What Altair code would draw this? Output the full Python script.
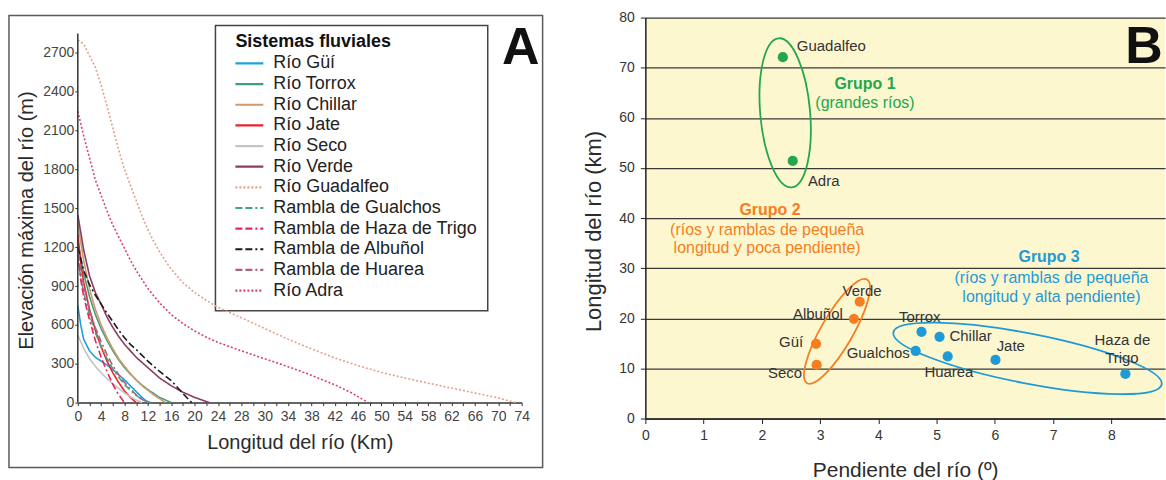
import altair as alt
import pandas as pd

FONT = "Liberation Sans"
TXT = "#2b2b2b"

# ---------------- Panel A data ----------------
series_names = ["Río Güí", "Río Torrox", "Río Chillar", "Río Jate", "Río Seco", "Río Verde",
                "Río Guadalfeo", "Rambla de Gualchos", "Rambla de Haza de Trigo",
                "Rambla de Albuñol", "Rambla de Huarea", "Río Adra"]
series_colors = ["#1BA3DC", "#3E9F7E", "#D29A6C", "#EE2026", "#C4C4C4", "#8C3B63",
                 "#E3A08C", "#3EA48A", "#E8245A", "#1A1A1A", "#B0607E", "#D9407A"]
SOLID = [1, 0]
DOT = [2, 2]
DASHDOT = [7, 3, 7, 3, 2, 3]
series_dashes = [SOLID, SOLID, SOLID, SOLID, SOLID, SOLID, DOT,
                 DASHDOT, DASHDOT, DASHDOT, DASHDOT, DOT]

gui_km = [0, 0.5, 1, 2, 3, 4, 5, 6, 7, 8, 9, 10, 11, 12]
gui_el = [750, 600, 490, 400, 350, 320, 290, 255, 215, 175, 130, 85, 40, 0]
torrox_km = [0, 1, 2, 3, 4, 5, 6, 7, 8, 9, 10, 11, 12, 13, 14, 15, 16]
torrox_el = [1250, 1000, 820, 680, 570, 480, 400, 330, 270, 220, 175, 135, 100, 70, 40, 20, 0]
chillar_km = [0, 1, 2, 3, 4, 5, 6, 7, 8, 9, 10, 11, 12, 13, 14, 15]
chillar_el = [1380, 1100, 880, 720, 600, 500, 415, 340, 280, 225, 175, 130, 95, 60, 30, 0]
jate_km = [0, 0.5, 1, 2, 3, 4, 5, 6, 7, 8, 9, 10]
jate_el = [1300, 1080, 930, 720, 560, 430, 320, 230, 155, 90, 40, 0]
seco_km = [0, 1, 2, 3, 4, 5, 6, 7, 8, 9, 10, 11]
seco_el = [520, 420, 340, 280, 230, 185, 145, 110, 75, 45, 20, 0]
verde_km = [0, 1, 2, 3, 4, 5, 6, 7, 8, 10, 12, 14, 16, 18, 20, 22.5]
verde_el = [1450, 1180, 980, 850, 760, 660, 580, 510, 450, 350, 270, 190, 130, 80, 40, 0]
guadalfeo_km = [0, 1, 2, 3, 4, 5, 6, 7, 8, 9, 10, 11, 12, 13, 14, 15, 16, 18, 20, 22, 24, 26,
                28, 30, 32, 34, 38, 42, 46, 50, 54, 58, 62, 66, 70, 73]
guadalfeo_el = [2800, 2770, 2680, 2590, 2450, 2290, 2120, 1950, 1800, 1680, 1560, 1440, 1335,
                1245, 1165, 1095, 1030, 925, 850, 790, 735, 695, 655, 572, 530, 490, 415, 345,
                285, 233, 190, 150, 112, 74, 36, 0]
gualchos_km = [0, 1, 2, 3, 4, 5, 6, 7, 8, 9, 10, 11, 12.5]
gualchos_el = [1100, 850, 680, 540, 430, 340, 260, 195, 140, 95, 55, 25, 0]
haza_km = [0, 0.5, 1, 2, 3, 4, 5, 6, 7, 8]
haza_el = [1150, 950, 820, 640, 480, 350, 240, 140, 60, 0]
albunol_km = [0, 1, 2, 3, 4, 5, 6, 7, 8, 9, 10, 12, 14, 16, 18, 19.5]
albunol_el = [1200, 1020, 910, 830, 760, 690, 625, 560, 500, 450, 410, 320, 240, 170, 70, 0]
huarea_km = [0, 1, 2, 3, 4, 5, 6, 7, 8, 9, 10, 11, 12]
huarea_el = [1150, 900, 720, 580, 470, 370, 285, 215, 155, 105, 60, 25, 0]
adra_km = [0, 1, 2, 3, 4, 5, 6, 7, 8, 9, 10, 11, 12, 14, 16, 18, 20, 22, 24, 26, 28, 30, 33,
           36, 39, 42, 45, 47.7]
adra_el = [2250, 2060, 1890, 1720, 1600, 1480, 1370, 1280, 1190, 1100, 1020, 950, 880, 770,
           680, 610, 553, 505, 465, 432, 400, 338, 293, 245, 193, 138, 72, 0]

profiles = [
    (gui_km, gui_el), (torrox_km, torrox_el), (chillar_km, chillar_el), (jate_km, jate_el),
    (seco_km, seco_el), (verde_km, verde_el), (guadalfeo_km, guadalfeo_el),
    (gualchos_km, gualchos_el), (haza_km, haza_el), (albunol_km, albunol_el),
    (huarea_km, huarea_el), (adra_km, adra_el),
]

x_labels_A = [0, 4, 8, 12, 16, 20, 24, 28, 30, 34, 38, 42, 46, 50, 54, 58, 62, 66, 70, 74]
x_ticks_A = list(range(0, 29, 2)) + [29] + list(range(30, 75, 2))
y_ticks_A = list(range(0, 2851, 150))
y_axis_top_A = 2850

# ---------------- Panel B data ----------------
names_B = ["Guadalfeo", "Adra", "Verde", "Albuñol", "Güí", "Seco",
           "Torrox", "Chillar", "Gualchos", "Huarea", "Jate", "Haza de Trigo"]
slope_B = [2.36, 2.53, 3.68, 3.58, 2.93, 2.94, 4.74, 5.05, 4.64, 5.19, 6.01, 8.24]
length_B = [72.1, 51.4, 23.3, 19.9, 14.9, 10.7, 17.3, 16.3, 13.5, 12.4, 11.7, 8.9]
group_B = ["Grupo 1", "Grupo 1", "Grupo 2", "Grupo 2", "Grupo 2", "Grupo 2",
           "Grupo 3", "Grupo 3", "Grupo 3", "Grupo 3", "Grupo 3", "Grupo 3"]
groups = ["Grupo 1", "Grupo 2", "Grupo 3"]
group_colors = ["#22A84A", "#F47E20", "#1E9AD6"]
group_text_colors = ["#2AA952", "#F2873A", "#2EA8DF"]

# ellipse centres (slope, length)
ell_x = [2.40, 3.29, 6.56]
ell_y = [61.0, 17.4, 12.0]

# point-label annotations
lab_text = ["Guadalfeo", "Adra", "Verde", "Albuñol", "Güí", "Seco", "Gualchos",
            "Torrox", "Chillar", "Jate", "Huarea", "Haza de", "Trigo"]
lab_x = [2.60, 2.79, 3.72, 3.39, 2.71, 2.69, 4.54, 4.71, 5.22, 6.03, 4.79, 7.71, 8.18]
lab_y = [74.4, 47.4, 25.5, 20.9, 15.3, 9.0, 13.1, 20.3, 16.5, 14.5, 9.2, 15.7, 12.1]
lab_align = ["left", "left", "center", "right", "right", "right", "right",
             "center", "left", "left", "left", "left", "center"]

grp_title = ["Grupo 1", "Grupo 2", "Grupo 3"]
grp_title_x = [3.77, 2.14, 6.93]
grp_title_y = [66.7, 41.6, 32.2]
grp_desc = ["(grandes ríos)", "(ríos y ramblas de pequeña", "longitud y poca pendiente)",
            "(ríos y ramblas de pequeña", "longitud y alta pendiente)"]
grp_desc_group = ["Grupo 1", "Grupo 2", "Grupo 2", "Grupo 3", "Grupo 3"]
grp_desc_x = [3.77, 2.09, 2.09, 6.97, 6.97]
grp_desc_y = [62.9, 37.6, 34.0, 28.1, 24.3]

# ================= Panel A =================
rows = []
for name, (ks, es) in zip(series_names, profiles):
    for k, e in zip(ks, es):
        rows.append({"serie": name, "km": k, "elev": e})
dfA = pd.DataFrame(rows)

WA = 445
HA = 386
PX_PER_M = 370 / 2850.0
y_top_dom = 2850 + 16 / PX_PER_M
step = WA / 19.0
lab_list = ",".join(str(v) for v in x_labels_A)

xA = alt.X("km:Q",
           scale=alt.Scale(domain=[0, 28, 30, 74], range=[0, 7 * step, 8 * step, 19 * step],
                           nice=False, zero=False),
           axis=alt.Axis(values=x_ticks_A,
                         labelExpr=f"indexof([{lab_list}], datum.value) >= 0 ? datum.label : ''",
                         title="Longitud del río (Km)", titleFontSize=20, titleFontWeight="normal",
                         titleColor=TXT, titlePadding=9, labelFontSize=14, labelColor="#444",
                         labelPadding=4, tickSize=3, tickColor="#333", domainColor="#333",
                         domainWidth=1.5, grid=False, labelFlush=False, labelOverlap=False))
yA = alt.Y("elev:Q",
           scale=alt.Scale(domain=[0, y_top_dom], nice=False),
           axis=alt.Axis(values=y_ticks_A,
                         labelExpr="(datum.value % 300 == 0 && datum.value <= 2700) ? datum.label : ''",
                         format="d", domain=False,
                         title="Elevación máxima del río (m)", titleFontSize=20,
                         titleFontWeight="normal", titleColor=TXT, titlePadding=6, titleY=203,
                         labelFontSize=14, labelColor="#444", labelPadding=1, tickSize=3,
                         tickColor="#333", grid=False,
                         labelOverlap=False, labelFlush=False))

cscale = alt.Scale(domain=series_names, range=series_colors)
dscale = alt.Scale(domain=series_names, range=series_dashes)

lines = alt.Chart(dfA).mark_line(strokeWidth=1.6).encode(
    x=xA, y=yA,
    color=alt.Color("serie:N", scale=cscale, legend=None),
    strokeDash=alt.StrokeDash("serie:N", scale=dscale, legend=None),
)

one = pd.DataFrame({"k": [0]})
yaxis_line = alt.Chart(one).mark_rule(color="#333", strokeWidth=1.5).encode(
    x=alt.value(0), y=alt.datum(0), y2=alt.datum(y_axis_top_A))
frameA = alt.Chart(one).mark_rect(fillOpacity=0, stroke="#5a5a5a", strokeWidth=1.5).encode(
    x=alt.value(-69), x2=alt.value(466), y=alt.value(-2), y2=alt.value(451))
legend_box = alt.Chart(one).mark_rect(fill="white", stroke="#444", strokeWidth=1.5).encode(
    x=alt.value(138), x2=alt.value(411), y=alt.value(8), y2=alt.value(294))

# hand-built legend (title, coloured/dashed keys and labels)
dfLeg = pd.DataFrame({"serie": series_names, "i": list(range(len(series_names)))})
leg_base = alt.Chart(dfLeg).transform_calculate(ly="46 + datum.i * 20.7")
leg_keys = leg_base.mark_rule(strokeWidth=2.2).encode(
    x=alt.value(158), x2=alt.value(186), y=alt.Y("ly:Q", scale=None, axis=None),
    color=alt.Color("serie:N", scale=cscale, legend=None),
    strokeDash=alt.StrokeDash("serie:N", scale=dscale, legend=None))
leg_labels = leg_base.mark_text(align="left", baseline="middle", fontSize=18, color="#222",
                                font=FONT).encode(
    x=alt.value(196), y=alt.Y("ly:Q", scale=None, axis=None), text="serie:N")
leg_title = alt.Chart(one).mark_text(text="Sistemas fluviales", align="left", baseline="middle",
                                     fontSize=18, fontWeight="bold", color="#111",
                                     font=FONT).encode(x=alt.value(158), y=alt.value(25))

letterA = alt.Chart(one).mark_text(text="A", fontSize=52, fontWeight="bold", color="#111",
                                   align="center", baseline="middle", font=FONT).encode(
    x=alt.value(444), y=alt.value(31))

panelA = alt.layer(frameA, legend_box, lines, yaxis_line, leg_keys, leg_labels, leg_title,
                   letterA).properties(width=WA, height=HA)

# ================= Panel B =================
WB, HB = 521, 402
dfB = pd.DataFrame({"name": names_B, "slope": slope_B, "len": length_B, "group": group_B})

xB = alt.X("slope:Q", scale=alt.Scale(domain=[0, 8.92], nice=False),
           axis=alt.Axis(values=list(range(0, 9)), format="d", title="Pendiente del río (º)",
                         titleFontSize=21, titleFontWeight="normal", titleColor=TXT,
                         titlePadding=17, labelFontSize=14, labelColor="#333", labelPadding=5,
                         tickSize=5, tickColor="#222", domainColor="#222", domainWidth=1.5,
                         grid=False, labelFlush=False))
yB = alt.Y("len:Q", scale=alt.Scale(domain=[0, 80], nice=False),
           axis=alt.Axis(values=list(range(0, 81, 10)), format="d",
                         title="Longitud del río (km)",
                         titleFontSize=22, titleFontWeight="normal", titleColor=TXT,
                         titlePadding=13, titleY=214, labelFontSize=14, labelColor="#333",
                         labelPadding=6,
                         tickSize=5, tickColor="#222", domainColor="#222", domainWidth=1.5,
                         grid=True, gridColor="#3a3a3a", gridWidth=1.3, labelFlush=False))

gcolor = alt.Scale(domain=groups, range=group_colors)
points = alt.Chart(dfB).mark_circle(size=105, opacity=1).encode(
    x=xB, y=yB, color=alt.Color("group:N", scale=gcolor, legend=None))


def ellipse_path(a, b):
    k = 0.5523
    f = lambda v: f"{v:.4f}"
    return (f"M {f(a)} 0 C {f(a)} {f(b*k)} {f(a*k)} {f(b)} 0 {f(b)} "
            f"C {f(-a*k)} {f(b)} {f(-a)} {f(b*k)} {f(-a)} 0 "
            f"C {f(-a)} {f(-b*k)} {f(-a*k)} {f(-b)} 0 {f(-b)} "
            f"C {f(a*k)} {f(-b)} {f(a)} {f(-b*k)} {f(a)} 0 Z")


ell_shapes = [ellipse_path(1 / 3, 1), ellipse_path(16 / 60, 1), ellipse_path(1, 25 / 137)]
ell_sizes = [150 ** 2, 120 ** 2, 274 ** 2]
ell_angles = [355, 30, 11]
ellipses = []
for i in range(3):
    d = pd.DataFrame({"slope": [ell_x[i]], "len": [ell_y[i]]})
    ellipses.append(alt.Chart(d).mark_point(shape=ell_shapes[i], size=ell_sizes[i],
                                            angle=ell_angles[i], filled=False,
                                            stroke=group_colors[i], strokeWidth=1.8,
                                            opacity=1).encode(x="slope:Q", y="len:Q"))

dfLab = pd.DataFrame({"t": lab_text, "slope": lab_x, "len": lab_y, "al": lab_align})
label_layers = []
for al in ["left", "right", "center"]:
    label_layers.append(
        alt.Chart(dfLab).transform_filter(alt.datum.al == al).mark_text(
            align=al, baseline="middle", fontSize=15, color="#333", font=FONT).encode(
            x="slope:Q", y="len:Q", text="t:N"))

tscale = alt.Scale(domain=groups, range=group_text_colors)
dfGT = pd.DataFrame({"t": grp_title, "slope": grp_title_x, "len": grp_title_y, "group": groups})
grp_titles = alt.Chart(dfGT).mark_text(align="center", baseline="middle", fontSize=16,
                                       fontWeight="bold", font=FONT).encode(
    x="slope:Q", y="len:Q", text="t:N",
    color=alt.Color("group:N", scale=tscale, legend=None))
dfGD = pd.DataFrame({"t": grp_desc, "slope": grp_desc_x, "len": grp_desc_y, "group": grp_desc_group})
grp_descs = alt.Chart(dfGD).mark_text(align="center", baseline="middle", fontSize=16,
                                      font=FONT).encode(
    x="slope:Q", y="len:Q", text="t:N",
    color=alt.Color("group:N", scale=tscale, legend=None))

boundB = alt.Chart(one).mark_rect(opacity=0).encode(
    x=alt.value(-66), x2=alt.value(-64), y=alt.value(0), y2=alt.value(2))
letterB = alt.Chart(one).mark_text(text="B", fontSize=52, fontWeight="bold", color="#111",
                                   align="center", baseline="middle", font=FONT).encode(
    x=alt.value(500), y=alt.value(30))

panelB = alt.layer(boundB, points, *ellipses, *label_layers, grp_titles, grp_descs,
                   letterB).properties(
    width=WB, height=HB, view=alt.ViewBackground(fill="#FDF7D0", strokeWidth=0))

chart = alt.hconcat(panelA, panelB, spacing=36).properties(
    padding={"left": 8, "top": 10, "right": 0, "bottom": 0},
    background="white",
).resolve_scale(color="independent", strokeDash="independent").configure(
    font=FONT).configure_view(strokeWidth=0)

chart.save("out.html", embed_options={"renderer": "svg", "actions": False})
